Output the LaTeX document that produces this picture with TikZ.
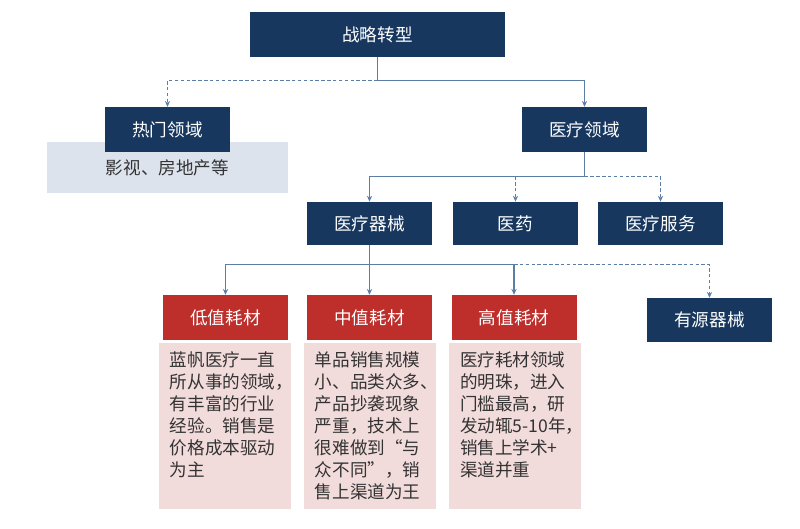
\documentclass[tikz,border=0pt]{standalone}
\usepackage{fontspec}
\setmainfont{Noto Sans CJK SC}
\usetikzlibrary{arrows.meta}
\definecolor{navy}{HTML}{17375E}
\definecolor{brick}{HTML}{BE2F2C}
\definecolor{blush}{HTML}{F2DCDB}
\definecolor{mist}{HTML}{DCE3ED}
\definecolor{steel}{HTML}{5B7DA6}
\newcommand{\notes}[1] % top aligned text of a pink box
{\parbox[t][4.45cm][t]{3.3cm}{#1}}
\tikzset{
	darkbox/.style={fill=navy, text=white, minimum width=3.75cm, minimum height=1.35cm, font=\fontsize{15}{17}\selectfont},
	redbox/.style={fill=brick, text=white, minimum width=3.75cm, minimum height=1.35cm, font=\fontsize{15}{17}\selectfont},
	softbox/.style={fill=mist, text=black!80, minimum width=7.23cm, minimum height=1.53cm, font=\fontsize{15}{17}\selectfont},
	notebox/.style={fill=blush, text=black!80, anchor=north, inner xsep=0.33cm, inner ysep=0.26cm, font=\fontsize{15}{18.7}\selectfont},
	link/.style={draw=steel, line width=0.9pt},
	tip/.style={-{Stealth[length=5pt, width=4.5pt]}},
	dashline/.style={dash pattern=on 3pt off 2pt}
}
\begin{document}
\begin{tikzpicture}[x=0.03cm, y=-0.03cm]
	% page: 800 x 529 px, 1px = 0.3mm
	\useasboundingbox (0,0) rectangle (800,529);
	% top
	\node[darkbox, minimum width=7.65cm] (strategy) at (377.5,34.5) {战略转型};
	% hot fields
	\node[softbox] (hotnote) at (167.5,167.5) {影视、房地产等};
	\node[darkbox] (hot) at (167.5,129.5) {热门领域};
	% medical fields
	\node[darkbox] (medical) at (584.5,129.5) {医疗领域};
	\node[darkbox, minimum height=1.3cm] (device) at (369.5,223.5) {医疗器械};
	\node[darkbox, minimum height=1.3cm] (pharma) at (515.5,223.5) {医药};
	\node[darkbox, minimum height=1.3cm] (service) at (660.5,223.5) {医疗服务};
	% consumables
	\node[redbox] (low) at (225.5,317.5) {低值耗材};
	\node[redbox] (mid) at (369.5,317.5) {中值耗材};
	\node[redbox] (high) at (514,317.5) {高值耗材};
	\node[notebox] (lownote) at (225,343) {\notes{蓝帆医疗一直\\所从事的领域，\\有丰富的行业\\经验。销售是\\价格成本驱动\\为主}};
	\node[notebox] (midnote) at (370,343) {\notes{单品销售规模\\小、品类众多、\\产品抄袭现象\\严重，技术上\\很难做到“与\\众不同”，销\\售上渠道为王}};
	\node[notebox] (highnote) at (515,343) {\notes{医疗耗材领域\\的明珠，进入\\门槛最高，研\\发动辄\mbox{5-10}年，\\销售上学术+\\渠道并重}};
	\node[darkbox, minimum height=1.32cm] (active) at (709.5,320) {有源器械};
	% connectors - level 1
	\draw[link] (strategy.south) -- ++(0,23) coordinate (split1);
	\draw[link, tip, dashline] (split1) -| (hot.north);
	\draw[link, tip] (split1) -| (medical.north);
	% connectors - level 2
	\draw[link] (medical.south) -- ++(0,24) coordinate (split2);
	\draw[link, tip] (split2) -| (device.north);
	\draw[link, tip, dashline] (pharma.north |- split2) -- (pharma.north);
	\draw[link, tip, dashline] (split2) -| (service.north);
	% connectors - level 3
	\draw[link] (device.south) -- ++(0,19) coordinate (split3);
	\draw[link, tip] (split3) -| (low.north);
	\draw[link, tip] (split3) -- (mid.north);
	\draw[link, tip] (split3) -| (high.north);
	\draw[link, tip, dashline] (high.north |- split3) -| (active.north);
\end{tikzpicture}
\end{document}
